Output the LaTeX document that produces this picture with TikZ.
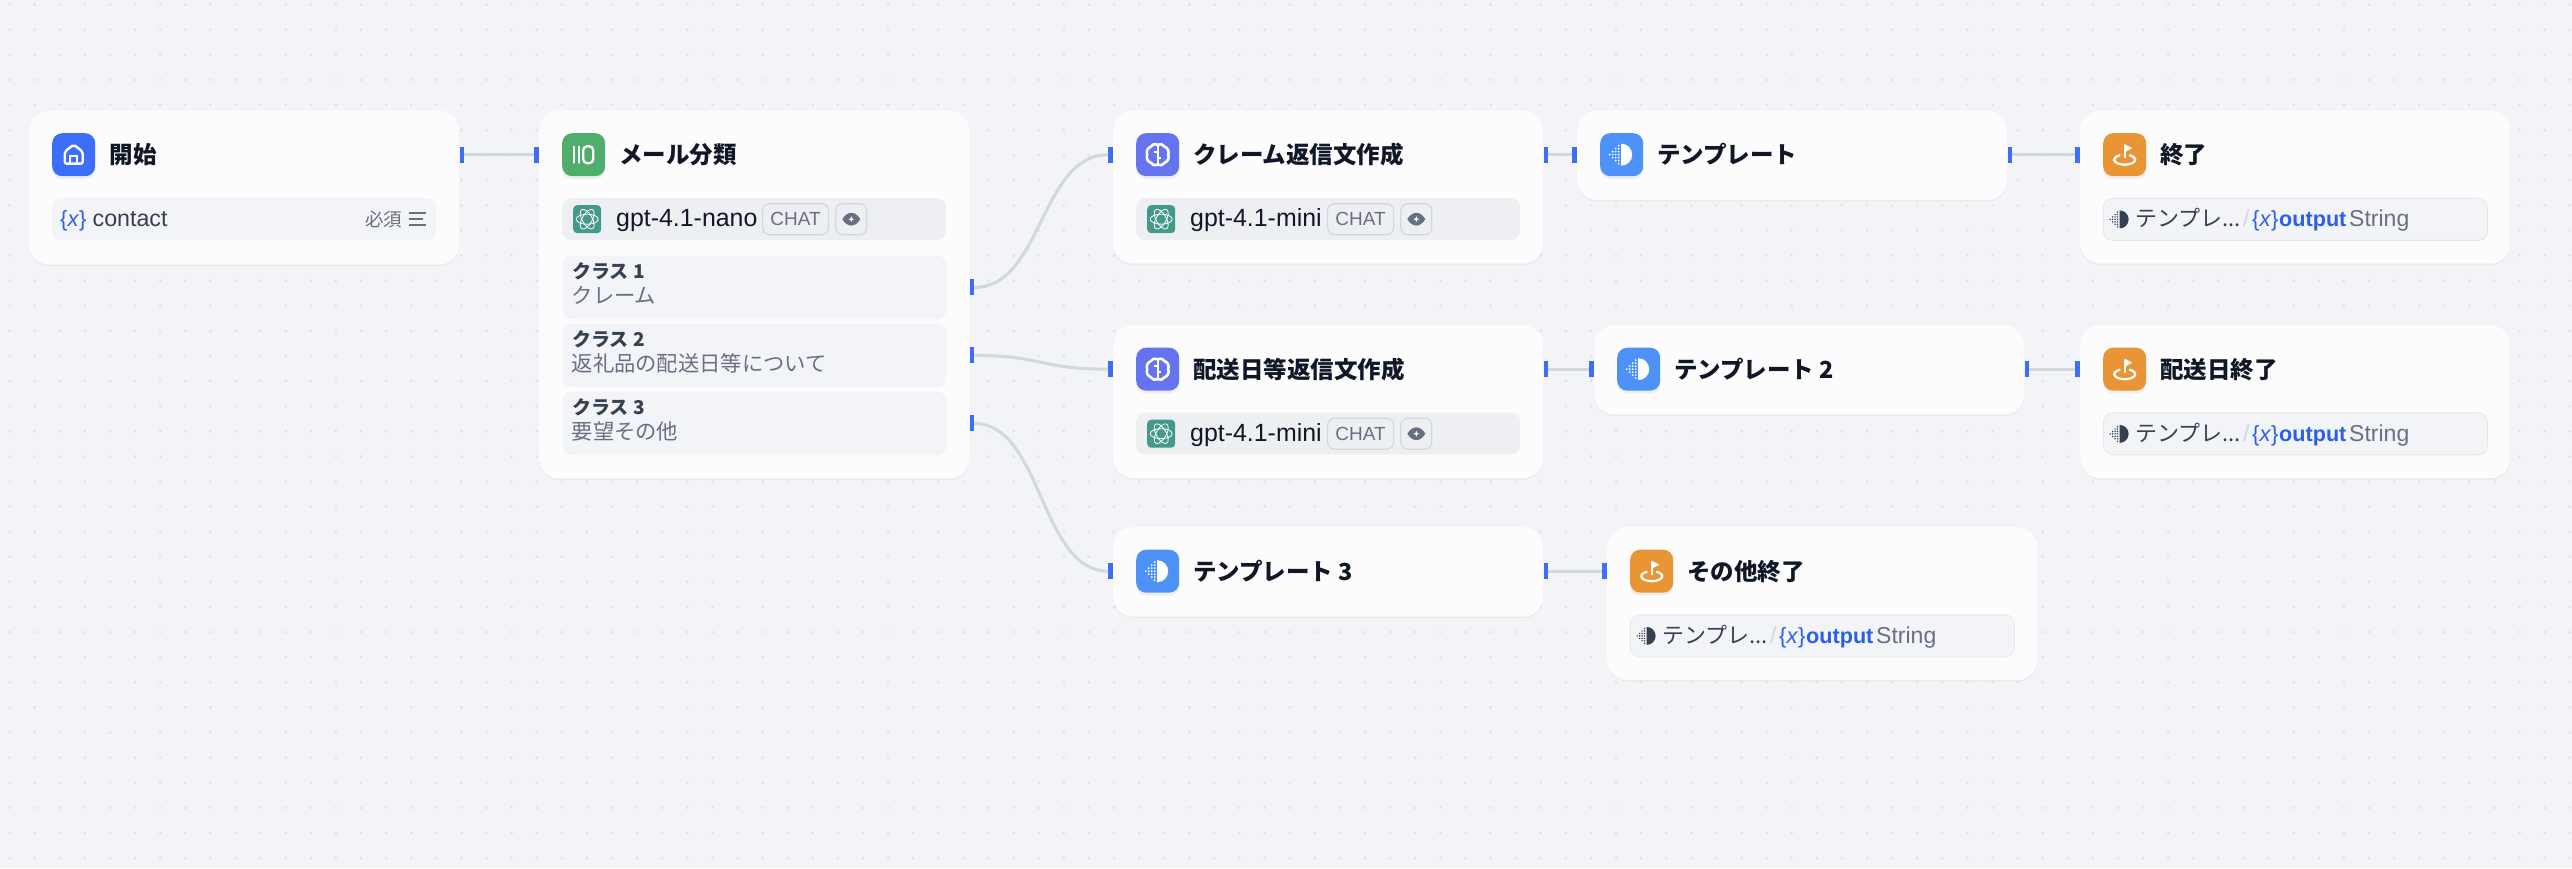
\documentclass[tikz,border=0pt]{standalone}
\usepackage{fontspec}
\setmainfont{Liberation Sans}
\newfontfamily\jpfont{Noto Sans CJK JP}
\usetikzlibrary{positioning,shadows}

\definecolor{bgcol}{HTML}{F2F4F7}
\definecolor{dotcol}{HTML}{DFE2E8}
\definecolor{cardcol}{HTML}{FCFCFD}
\definecolor{rowcol}{HTML}{F2F4F7}
\definecolor{modelcol}{HTML}{EEEFF3}
\definecolor{linecol}{HTML}{D3D7DE}
\definecolor{handlecol}{HTML}{3C6EFA}
\definecolor{homecol}{HTML}{3C6EFA}
\definecolor{classcol}{HTML}{50AE6C}
\definecolor{llmcol}{HTML}{6573EE}
\definecolor{tplcol}{HTML}{4E92F7}
\definecolor{endcol}{HTML}{E99535}
\definecolor{aicol}{HTML}{43998A}
\definecolor{inkcol}{HTML}{101828}
\definecolor{darkcol}{HTML}{354052}
\definecolor{graycol}{HTML}{676F83}
\definecolor{varcol}{HTML}{2A5FE8}

\tikzset{
  card/.style={fill=cardcol,rounded corners=20pt,inner sep=0pt,anchor=north west,minimum width=430pt,
    drop shadow={shadow xshift=0pt,shadow yshift=-1.5pt,opacity=.04,fill=black}},
  iconbox/.style={rounded corners=10pt,inner sep=0pt,minimum size=43pt,
    drop shadow={shadow xshift=0pt,shadow yshift=-3pt,opacity=.05,fill=black}},
  title/.style={inner sep=0pt,text=inkcol,font=\jpfont\bfseries\fontsize{23.5}{28}\selectfont},
  rowbox/.style={fill=rowcol,rounded corners=9pt,inner sep=0pt,minimum width=384pt,minimum height=42pt},
  endrow/.style={rowbox,draw=linecol!60,line width=.8pt},
  rowtext/.style={inner sep=0pt,anchor=west,text height=20pt,text depth=5pt,font=\fontsize{23.2}{28}\selectfont},
  vartext/.style={rowtext,text=varcol,font=\fontsize{22}{28}\selectfont},
  jptext/.style={rowtext,font=\jpfont\fontsize{22}{28}\selectfont},
  aibox/.style={fill=aicol,rounded corners=4pt,inner sep=0pt,minimum size=28pt},
  badge/.style={draw=linecol,fill=modelcol,line width=1.2pt,rounded corners=7pt,inner sep=0pt,minimum height=31pt,anchor=west},
  handle/.style={fill=handlecol,inner sep=0pt,minimum width=4.5pt,minimum height=16pt},
  wire/.style={draw=linecol,line width=3pt},
  pics/homeicon/.style={code={
    \draw[white,line width=2.4pt,line join=round,rounded corners=2pt] (-9,3) -- (0,10) -- (9,3) -- (9,-9) -- (-9,-9) -- cycle;
    \draw[white,line width=2.2pt] (-3.5,-9) -- (-3.5,-1) -- (3.5,-1) -- (3.5,-9);}},
  pics/classicon/.style={code={
    \draw[white,line width=2.2pt,line cap=round] (-9.5,-8) -- (-9.5,8) (-4.5,-8) -- (-4.5,8);
    \draw[white,line width=2.2pt,rounded corners=4pt] (-.5,-8.5) -- (-.5,8.5) -- (9.5,8.5) -- (9.5,-8.5) -- cycle;}},
  pics/brainicon/.style={code={
    \draw[white,line width=2.6pt,line join=round] (0,10) to[bend right=45] (-7,8) to[bend right=45] (-10.5,0) to[bend right=45] (-7,-8) to[bend right=45] (0,-10)
      to[bend right=45] (7,-8) to[bend right=45] (10.5,0) to[bend right=45] (7,8) to[bend right=45] (0,10);
    \draw[white,line width=2.2pt] (0,10) -- (0,-10) (0,3) -- (-3.5,3) (0,-3) -- (3.5,-3);}},
  pics/tplicon/.style={code={
    \fill[#1] (-.5,11) arc[start angle=90,end angle=-90,radius=11] -- cycle;
    \foreach \dx/\dy in {-3/9,-3/6,-3/3,-3/0,-3/-3,-3/-6,-3/-9,-6/6,-6/3,-6/0,-6/-3,-6/-6,-9/3,-9/0,-9/-3,-12/0}
      \fill[#1] (\dx,\dy) circle[radius=1pt];}},
  pics/flagicon/.style={code={
    \draw[white,line width=2.2pt] (0,-3.5) -- (0,9.5);
    \fill[white] (0,10.5) -- (7.5,6.5) -- (0,2.5) -- cycle;
    \draw[white,line width=2.2pt] ([shift={(0,-5)}]115:10.5 and 5) arc[start angle=115,end angle=425,x radius=10.5,y radius=5];}},
  pics/aiicon/.style={code={
    \foreach \ang in {0,60,120}
      \draw[white,line width=.8pt,rotate=\ang] (0,0) ellipse[x radius=11,y radius=5];}},
  pics/eyeicon/.style={code={
    \fill[graycol] (-9,0) .. controls (-4,8.5) and (4,8.5) .. (9,0) .. controls (4,-8.5) and (-4,-8.5) .. cycle;
    \fill[white] (0,3) -- (.8,.8) -- (3,0) -- (.8,-.8) -- (0,-3) -- (-.8,-.8) -- (-3,0) -- (-.8,.8) -- cycle;}},
  pics/menuicon/.style={code={
    \draw[graycol,line width=1.6pt] (-8.5,6) -- (8.5,6) (-8.5,0) -- (5.5,0) (-8.5,-6) -- (8.5,-6);}},
}

\begin{document}
\begin{tikzpicture}[x=1pt,y=1pt]
  \useasboundingbox (0,0) rectangle (2572,868);
  \fill[bgcol] (0,0) rectangle (2572,868);
  \foreach \i in {0,...,102}
    \foreach \j in {0,...,34}
      \fill[dotcol] (9.6+25.1*\i,863.4-25.1*\j) circle[radius=1.5pt];

  % start card
  \node[card,minimum height=154pt] (start) at (29,757.5) {};
  \node[iconbox,fill=homecol,below right=22.5pt and 23pt of start.north west] (start-ico) {};
  \pic at (start-ico) {homeicon};
  \node[title,right=14pt of start-ico] (start-ttl) {開始};
  \node[rowbox,below right=87.5pt and 23pt of start.north west] (start-row) {};
  \node[vartext,right=8pt of start-row.west] (start-var) {\{\textit{x}\}};
  \node[rowtext,text=darkcol,right=40.5pt of start-row.west] (start-name) {contact};
  \node[jptext,text=graycol,font=\jpfont\fontsize{18.5}{24}\selectfont,right=313pt of start-row.west] (start-req) {必須};
  \coordinate[left=18.5pt of start-row.east] (start-menu);
  \pic at (start-menu) {menuicon};

  % cards with a model row
  \foreach \nm/\px/\py/\ph/\col/\ttl/\mdl/\cx in {
      mail/539/757.5/368/classcol/メール分類/gpt-4.1-nano/200,
      claim/1113/757.5/153/llmcol/クレーム返信文作成/gpt-4.1-mini/191,
      ship/1113/543/153/llmcol/配送日等返信文作成/gpt-4.1-mini/191} {
    \node[card,minimum height=\ph pt] (\nm) at (\px,\py) {};
    \node[iconbox,fill=\col,below right=22.5pt and 23pt of \nm.north west] (\nm-ico) {};
    \node[title,right=13.5pt of \nm-ico] (\nm-ttl) {\ttl};
    \node[rowbox,fill=modelcol,below right=87.5pt and 23pt of \nm.north west] (\nm-row) {};
    \node[aibox,right=11pt of \nm-row.west] (\nm-ai) {};
    \pic at (\nm-ai) {aiicon};
    \node[rowtext,text=inkcol,font=\fontsize{24.9}{28}\selectfont,right=54pt of \nm-row.west] (\nm-mdl) {\mdl};
    \node[badge,minimum width=66pt,text=graycol,font=\fontsize{19}{22}\selectfont,right=\cx pt of \nm-row.west] (\nm-chat) {CHAT};
    \node[badge,minimum width=31pt,right=6pt of \nm-chat] (\nm-eye) {};
    \pic at (\nm-eye) {eyeicon};
  }
  \pic at (mail-ico) {classicon};
  \pic at (claim-ico) {brainicon};
  \pic at (ship-ico) {brainicon};

  % the three classes
  \foreach \k/\off/\txt in {1/145/クレーム,2/213/返礼品の配送日等について,3/281/要望その他} {
    \node[rowbox,minimum height=63.5pt,below right=\off pt and 23pt of mail.north west] (cls\k) {};
    \node[inner sep=0pt,anchor=west,text=darkcol,font=\jpfont\bfseries\fontsize{19}{22}\selectfont,xshift=10pt,yshift=16pt] (cls\k-ttl) at (cls\k.west) {クラス \k};
    \node[inner sep=0pt,anchor=west,text=graycol,font=\jpfont\fontsize{21.3}{26}\selectfont,xshift=9.5pt,yshift=-7.5pt] (cls\k-txt) at (cls\k.west) {\txt};
  }

  % template cards
  \foreach \nm/\px/\py/\ttl in {tplA/1577/757.5/テンプレート,tplB/1594/543/テンプレート 2,tplC/1113/341/テンプレート 3} {
    \node[card,minimum height=89.5pt] (\nm) at (\px,\py) {};
    \node[iconbox,fill=tplcol,below right=22.5pt and 23pt of \nm.north west] (\nm-ico) {};
    \pic at (\nm-ico) {tplicon=white};
    \node[title,right=13.5pt of \nm-ico] (\nm-ttl) {\ttl};
  }

  % end cards
  \foreach \nm/\px/\py/\ttl in {endA/2080/757.5/終了,endB/2080/543/配送日終了,endC/1607/341/その他終了} {
    \node[card,minimum height=153pt] (\nm) at (\px,\py) {};
    \node[iconbox,fill=endcol,below right=22.5pt and 23pt of \nm.north west] (\nm-ico) {};
    \pic at (\nm-ico) {flagicon};
    \node[title,right=13.5pt of \nm-ico] (\nm-ttl) {\ttl};
    \node[endrow,below right=87.5pt and 23pt of \nm.north west] (\nm-row) {};
    \coordinate[right=17pt of \nm-row.west] (\nm-half);
    \pic[scale=.82] at (\nm-half) {tplicon=darkcol};
    \node[jptext,text=darkcol,right=32pt of \nm-row.west] (\nm-src) {テンプレ...};
    \node[rowtext,text=linecol,right=140pt of \nm-row.west] (\nm-slash) {/};
    \node[vartext,right=149pt of \nm-row.west] (\nm-var) {\{\textit{x}\}};
    \node[rowtext,text=varcol,font=\bfseries\fontsize{21.6}{28}\selectfont,right=176pt of \nm-row.west] (\nm-out) {output};
    \node[rowtext,text=graycol,font=\fontsize{23}{28}\selectfont,right=246pt of \nm-row.west] (\nm-type) {String};
  }

  % handles
  \node[handle,anchor=west] (hStartOut) at (start.east |- start-ico) {};
  \node[handle,anchor=east] (hMailIn) at (mail.west |- mail-ico) {};
  \node[handle,anchor=west] (hCls1) at (mail.east |- cls1) {};
  \node[handle,anchor=west] (hCls2) at (mail.east |- cls2) {};
  \node[handle,anchor=west] (hCls3) at (mail.east |- cls3) {};
  \foreach \nm in {claim,ship,tplC,tplA,tplB,endA,endB,endC}
    \node[handle,anchor=east] (h-\nm-in) at (\nm.west |- \nm-ico) {};
  \foreach \nm in {claim,ship,tplC,tplA,tplB}
    \node[handle,anchor=west] (h-\nm-out) at (\nm.east |- \nm-ico) {};

  % connectors
  \draw[wire] (hStartOut) -- (hMailIn);
  \draw[wire] (h-claim-out) -- (h-tplA-in);
  \draw[wire] (h-tplA-out) -- (h-endA-in);
  \draw[wire] (h-ship-out) -- (h-tplB-in);
  \draw[wire] (h-tplB-out) -- (h-endB-in);
  \draw[wire] (h-tplC-out) -- (h-endC-in);
  \draw[wire] (hCls1.east) .. controls +(68pt,0pt) and +(-68pt,0pt) .. (h-claim-in.west);
  \draw[wire] (hCls2.east) .. controls +(68pt,0pt) and +(-68pt,0pt) .. (h-ship-in.west);
  \draw[wire] (hCls3.east) .. controls +(68pt,0pt) and +(-68pt,0pt) .. (h-tplC-in.west);
\end{tikzpicture}
\end{document}
